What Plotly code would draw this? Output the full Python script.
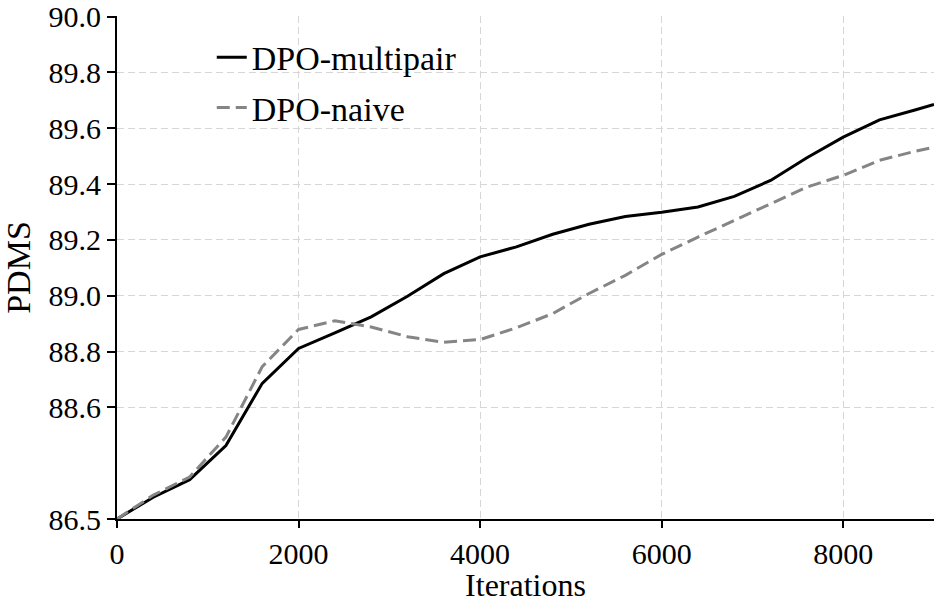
import plotly.graph_objects as go

# ---- data ----
iterations = [0, 400, 800, 1200, 1600, 2000, 2400, 2800, 3200, 3600, 4000, 4400,
              4800, 5200, 5600, 6000, 6400, 6800, 7200, 7600, 8000, 8400, 8800, 9000]
dpo_multipair = [86.50, 86.91, 87.24, 87.88, 88.686, 88.811, 88.867, 88.924, 88.998, 89.079,
                 89.139, 89.175, 89.220, 89.256, 89.284, 89.299, 89.318, 89.356, 89.413,
                 89.494, 89.568, 89.630, 89.666, 89.685]
dpo_naive = [86.50, 86.95, 87.29, 88.04, 88.746, 88.879, 88.910, 88.888, 88.853, 88.833,
             88.843, 88.885, 88.936, 89.008, 89.073, 89.148, 89.210, 89.270, 89.330,
             89.389, 89.431, 89.485, 89.518, 89.532]
y_tick_values = [86.5, 88.6, 88.8, 89.0, 89.2, 89.4, 89.6, 89.8, 90.0]
y_tick_labels = ["86.5", "88.6", "88.8", "89.0", "89.2", "89.4", "89.6", "89.8", "90.0"]
x_tick_values = [0, 2000, 4000, 6000, 8000]

# ---- broken y axis: values below 88.6 are compressed (86.5..88.6 -> 88.2..88.6) ----
BREAK_LO, BREAK_HI, DISP_LO = 86.5, 88.6, 88.2


def to_display(v):
    if v >= BREAK_HI:
        return v
    return DISP_LO + (v - BREAK_LO) * (BREAK_HI - DISP_LO) / (BREAK_HI - BREAK_LO)


FONT = "Liberation Serif, Times New Roman, serif"

fig = go.Figure()
fig.add_trace(go.Scatter(
    x=iterations, y=[to_display(v) for v in dpo_multipair], mode="lines",
    name="DPO-multipair", legendgroup="a", line=dict(color="black", width=3),
))
fig.add_trace(go.Scatter(
    x=iterations, y=[to_display(v) for v in dpo_naive], mode="lines",
    name="DPO-naive", legendgroup="b", line=dict(color="#858585", width=3, dash="13px,6px"),
))

fig.update_layout(
    width=937, height=603,
    margin=dict(l=117, r=3, t=16, b=84, autoexpand=False),
    paper_bgcolor="white", plot_bgcolor="white",
    font=dict(family=FONT, color="black", size=30),
    showlegend=True,
    legend=dict(
        x=0.116, y=0.975, xanchor="left", yanchor="top",
        bgcolor="rgba(0,0,0,0)", borderwidth=0, tracegroupgap=3,
        font=dict(family=FONT, size=34, color="black"),
    ),
    xaxis=dict(
        range=[0, 9000], tickvals=x_tick_values,
        showline=True, linecolor="black", linewidth=2,
        ticks="outside", ticklen=7, tickwidth=2, tickcolor="black",
        showgrid=True, gridcolor="#d6d6d6", gridwidth=1.2, griddash="7px,4px",
        zeroline=False, mirror=False, ticklabeloverflow="allow",
        tickfont=dict(family=FONT, size=30),
        title=dict(text="Iterations", font=dict(family=FONT, size=32), standoff=5),
    ),
    yaxis=dict(
        range=[DISP_LO, 90.002],
        tickvals=[to_display(v) for v in y_tick_values], ticktext=y_tick_labels,
        showline=True, linecolor="black", linewidth=2,
        ticks="outside", ticklen=8, tickwidth=2, tickcolor="black",
        showgrid=True, gridcolor="#d6d6d6", gridwidth=1.2, griddash="7px,4px",
        zeroline=False, mirror=False, ticklabeloverflow="allow",
        tickfont=dict(family=FONT, size=30),
        title=dict(text="PDMS", font=dict(family=FONT, size=34), standoff=14),
    ),
)

fig.write_html(
    "out.html",
    config={"displayModeBar": False},
    post_script="document.body.style.margin='0';document.body.style.padding='0';",
)
